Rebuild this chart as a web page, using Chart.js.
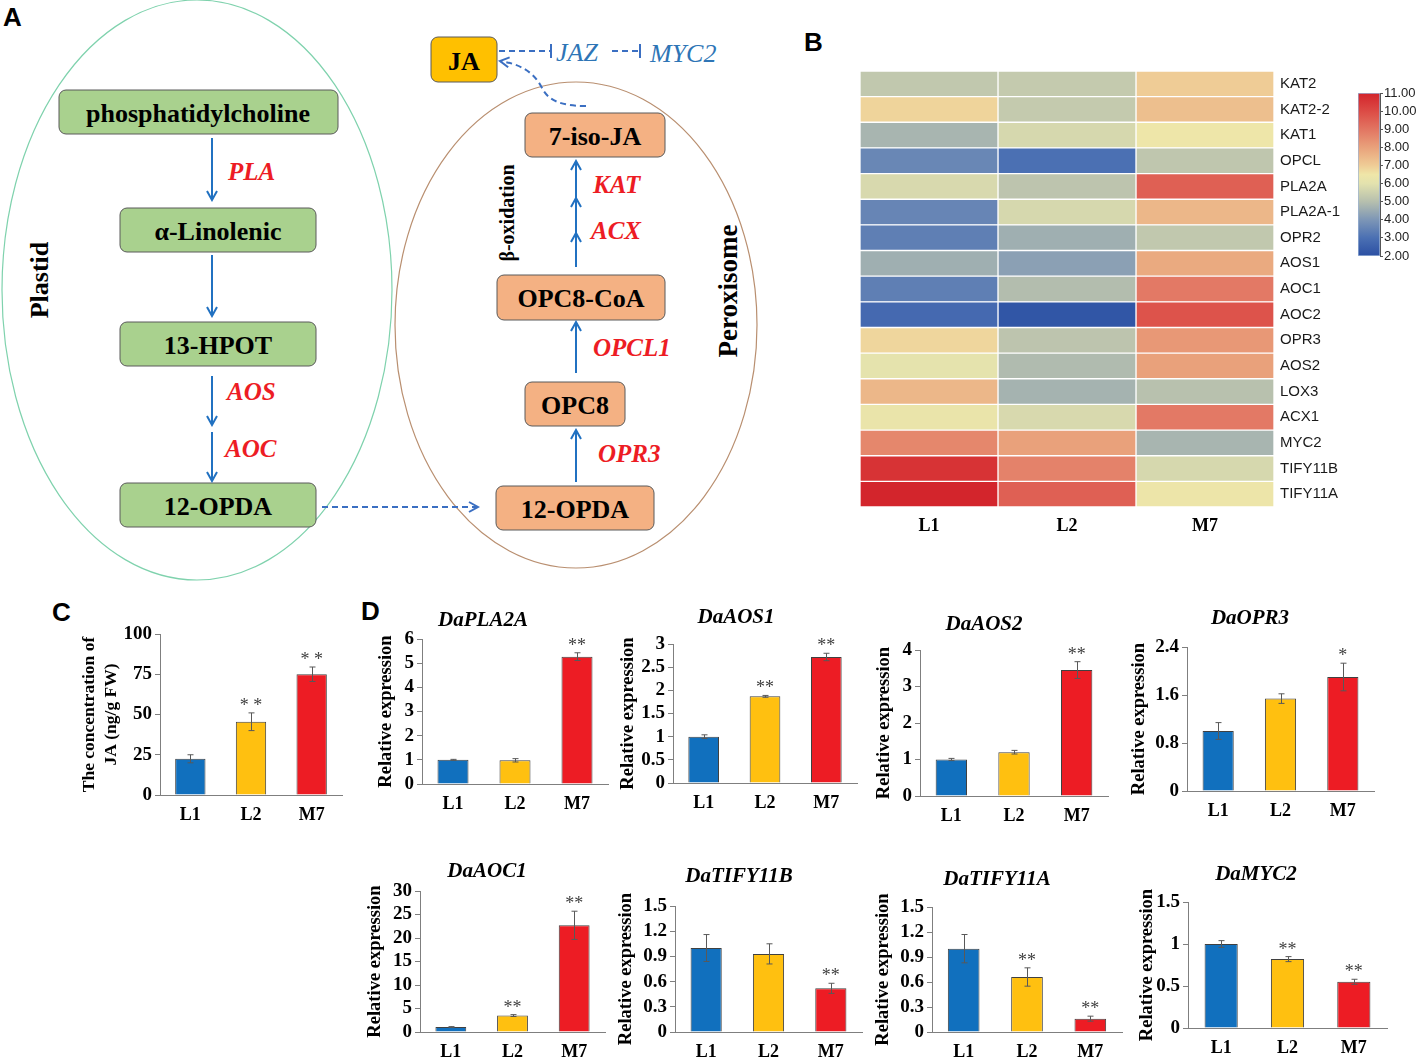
<!DOCTYPE html>
<html>
<head>
<meta charset="utf-8">
<title>JA pathway and expression</title>
<script src="https://cdn.jsdelivr.net/npm/chart.js@4.4.0/dist/chart.umd.min.js"></script>
<style>
  html, body { margin: 0; padding: 0; background: #fff; }
  #page { position: relative; width: 1417px; height: 1059px; overflow: hidden; background: #fff; }
  .letter { position: absolute; font: bold 26px "Liberation Sans", Arial, sans-serif; color: #000; line-height: 1; }
</style>
</head>
<body>
<div id="page">
  <svg width="800" height="590" style="position:absolute;left:0;top:0" font-family="'Liberation Serif', 'Times New Roman', serif">
    <defs>
      <marker id="arr" markerUnits="userSpaceOnUse" markerWidth="14" markerHeight="14" viewBox="0 0 14 14" refX="12" refY="7" orient="auto">
        <path d="M3,2 L12,7 L3,12" fill="none" stroke="#2171c1" stroke-width="2"/>
      </marker>
      <marker id="arrD" markerUnits="userSpaceOnUse" markerWidth="14" markerHeight="14" viewBox="0 0 14 14" refX="12" refY="7" orient="auto">
        <path d="M3,2 L12,7 L3,12" fill="none" stroke="#3b6fc2" stroke-width="2"/>
      </marker>
    </defs>
    <ellipse cx="197" cy="290" rx="195" ry="290" fill="none" stroke="#7fd2ad" stroke-width="1.2"/>
    <ellipse cx="576" cy="325" rx="181" ry="243" fill="none" stroke="#b98f70" stroke-width="1.2"/>

    <g stroke="#5a5a5a" stroke-width="1">
      <rect x="59" y="90" width="279" height="44" rx="7" fill="#a9d18e"/>
      <rect x="120" y="208" width="196" height="44" rx="7" fill="#a9d18e"/>
      <rect x="120" y="322" width="196" height="44" rx="7" fill="#a9d18e"/>
      <rect x="120" y="483" width="196" height="44" rx="7" fill="#a9d18e"/>
      <rect x="525" y="113" width="140" height="44" rx="7" fill="#f4b183"/>
      <rect x="497" y="275" width="168" height="45" rx="7" fill="#f4b183"/>
      <rect x="525" y="382" width="100" height="44" rx="7" fill="#f4b183"/>
      <rect x="496" y="486" width="158" height="44" rx="7" fill="#f4b183"/>
      <rect x="431" y="37" width="66" height="45" rx="7" fill="#ffc000"/>
    </g>

    <g font-weight="bold" font-size="26" text-anchor="middle" dominant-baseline="central" fill="#000">
      <text x="198" y="113">phosphatidylcholine</text>
      <text x="218" y="231">α-Linolenic</text>
      <text x="218" y="345">13-HPOT</text>
      <text x="218" y="506">12-OPDA</text>
      <text x="595" y="136">7-iso-JA</text>
      <text x="581" y="298">OPC8-CoA</text>
      <text x="575" y="405">OPC8</text>
      <text x="575" y="509">12-OPDA</text>
      <text x="464" y="61">JA</text>
      <text x="39" y="280" transform="rotate(-90 39 280)">Plastid</text>
      <text x="728" y="291" font-size="27" transform="rotate(-90 728 291)">Peroxisome</text>
      <text x="507" y="213" font-size="20" transform="rotate(-90 507 213)">β-oxidation</text>
    </g>

    <g stroke="#2171c1" stroke-width="2" fill="none">
      <line x1="212" y1="138" x2="212" y2="200" marker-end="url(#arr)"/>
      <line x1="212" y1="255" x2="212" y2="316" marker-end="url(#arr)"/>
      <line x1="212" y1="376" x2="212" y2="425" marker-end="url(#arr)"/>
      <line x1="212" y1="432" x2="212" y2="481" marker-end="url(#arr)"/>
      <line x1="576" y1="482" x2="576" y2="430" marker-end="url(#arr)"/>
      <line x1="576" y1="373" x2="576" y2="322" marker-end="url(#arr)"/>
      <line x1="576" y1="267" x2="576" y2="233" marker-end="url(#arr)"/>
      <line x1="576" y1="233" x2="576" y2="198" marker-end="url(#arr)"/>
      <line x1="576" y1="198" x2="576" y2="161" marker-end="url(#arr)"/>
    </g>

    <g stroke="#3b6fc2" stroke-width="2" fill="none" stroke-dasharray="6 4">
      <line x1="322" y1="507" x2="478" y2="507" marker-end="url(#arrD)"/>
      <line x1="499" y1="51" x2="551" y2="51"/>
      <line x1="612" y1="51" x2="640" y2="51"/>
      <path d="M586,106 C560,106 548,100 542,88 C534,72 520,64 500,61" marker-end="url(#arrD)"/>
    </g>
    <g stroke="#3b6fc2" stroke-width="2">
      <line x1="551" y1="44" x2="551" y2="58"/>
      <line x1="640" y1="44" x2="640" y2="58"/>
    </g>

    <g font-style="italic" font-weight="bold" font-size="25" fill="#ed1c24" dominant-baseline="central">
      <text x="228" y="171">PLA</text>
      <text x="227" y="391">AOS</text>
      <text x="225" y="448">AOC</text>
      <text x="593" y="184">KAT</text>
      <text x="591" y="230">ACX</text>
      <text x="593" y="347">OPCL1</text>
      <text x="598" y="453">OPR3</text>
    </g>
    <g font-style="italic" font-size="26" fill="#2e75b6" dominant-baseline="central">
      <text x="556" y="52">JAZ</text>
      <text x="650" y="53">MYC2</text>
    </g>
  </svg>

  <div class="letter" style="left:3px;top:4px">A</div>
  <div class="letter" style="left:804px;top:29px">B</div>
  <div class="letter" style="left:52px;top:599px">C</div>
  <div class="letter" style="left:361px;top:598px">D</div>
</div>

<script>
const groups = ["L1", "L2", "M7"];

// heatmap (panel B)
const heatGenes = ["KAT2", "KAT2-2", "KAT1", "OPCL", "PLA2A", "PLA2A-1", "OPR2", "AOS1", "AOC1",
  "AOC2", "OPR3", "AOS2", "LOX3", "ACX1", "MYC2", "TIFY11B", "TIFY11A"];
const heatL1 = [5.25, 6.85, 4.75, 3.6, 5.75, 3.55, 3.4, 4.6, 3.4, 2.8, 6.8, 6.1, 7.5, 6.3, 8.6, 10.6, 10.95];
const heatL2 = [5.3, 5.3, 5.7, 3.0, 5.15, 5.7, 4.6, 4.25, 4.95, 2.2, 5.15, 4.9, 4.7, 5.75, 8.0, 8.7, 9.5];
const heatM7 = [7.0, 7.3, 6.45, 5.2, 9.5, 7.5, 5.25, 7.8, 8.9, 9.8, 8.2, 8.0, 5.05, 8.9, 4.75, 5.7, 6.4];
const colorbarRange = [2, 11];

// JA content (panel C)
const jaMean = [22.5, 45.5, 75];
const jaErr = [2.5, 5.5, 4.5];
const jaStars = ["", "* *", "* *"];

// qRT-PCR (panel D)
const pla2aMean = [1.0, 0.98, 5.27];
const pla2aErr = [0.02, 0.07, 0.16];
const pla2aStars = ["", "", "**"];
const aos1Mean = [1.0, 1.87, 2.72];
const aos1Err = [0.04, 0.02, 0.08];
const aos1Stars = ["", "**", "**"];
const aos2Mean = [1.0, 1.2, 3.45];
const aos2Err = [0.03, 0.05, 0.23];
const aos2Stars = ["", "", "**"];
const opr3Mean = [1.0, 1.54, 1.9];
const opr3Err = [0.14, 0.08, 0.23];
const opr3Stars = ["", "", "*"];
const aoc1Mean = [1.05, 3.5, 22.7];
const aoc1Err = [0.1, 0.2, 3.0];
const aoc1Stars = ["", "**", "**"];
const tify11bMean = [1.0, 0.93, 0.52];
const tify11bErr = [0.16, 0.12, 0.06];
const tify11bStars = ["", "", "**"];
const tify11aMean = [1.0, 0.66, 0.16];
const tify11aErr = [0.17, 0.11, 0.03];
const tify11aStars = ["", "**", "**"];
const myc2Mean = [1.0, 0.82, 0.55];
const myc2Err = [0.04, 0.03, 0.03];
const myc2Stars = ["", "**", "**"];

const $ = (id) => document.getElementById(id);
const serif = '"Liberation Serif", "Times New Roman", serif';
const sans = '"Liberation Sans", Arial, sans-serif';
const barFill = ["#1170be", "#ffc010", "#ed1c24"];
const scaleStops = [
  [2, "#2b4fa3"], [3, "#4b70b3"], [4, "#7d96b6"], [5, "#b6bfae"], [6, "#e3e2ae"],
  [6.5, "#efe6a8"], [7, "#efcc96"], [8, "#e9a17b"], [9, "#e27562"], [10, "#dc4b45"], [11, "#d3232b"],
];

Chart.defaults.animation = false;
Chart.defaults.font.family = serif;
Chart.defaults.color = "#000";
Chart.defaults.plugins.legend.display = false;
Chart.defaults.plugins.tooltip.enabled = false;

function hexRgb(h) {
  return [1, 3, 5].map((i) => parseInt(h.slice(i, i + 2), 16));
}

function heatColor(v) {
  for (let i = 1; i < scaleStops.length; i++) {
    const [v1, c1] = scaleStops[i];
    const [v0, c0] = scaleStops[i - 1];
    if (v <= v1) {
      const t = Math.max(0, (v - v0) / (v1 - v0));
      const a = hexRgb(c0), b = hexRgb(c1);
      return `rgb(${a.map((x, k) => Math.round(x + (b[k] - x) * t)).join(",")})`;
    }
  }
  return scaleStops[scaleStops.length - 1][1];
}

function makeCanvas(left, top, w, h) {
  const c = document.createElement("canvas");
  c.width = w;
  c.height = h;
  c.style.cssText = `position:absolute;left:${left}px;top:${top}px;width:${w}px;height:${h}px`;
  $("page").appendChild(c);
  return c;
}

const errorBars = {
  id: "errorBars",
  afterDatasetsDraw(chart) {
    const ds = chart.data.datasets[0];
    const meta = chart.getDatasetMeta(0);
    const y = chart.scales.y;
    const ctx = chart.ctx;
    ctx.save();
    ctx.strokeStyle = "#595959";
    ctx.lineWidth = 1;
    ctx.fillStyle = "#404040";
    ctx.font = `18px ${serif}`;
    ctx.textAlign = "center";
    ctx.textBaseline = "alphabetic";
    meta.data.forEach((bar, i) => {
      const v = ds.data[i], e = ds.errors[i];
      const hi = y.getPixelForValue(v + e);
      const lo = y.getPixelForValue(v - e);
      const x = Math.round(bar.x) + 0.5;
      ctx.beginPath();
      ctx.moveTo(x, hi); ctx.lineTo(x, lo);
      ctx.moveTo(x - 3, hi); ctx.lineTo(x + 3, hi);
      ctx.moveTo(x - 3, lo); ctx.lineTo(x + 3, lo);
      ctx.stroke();
      if (ds.stars[i]) ctx.fillText(ds.stars[i], bar.x, hi - 2);
    });
    ctx.restore();
  },
};

const geneTitle = {
  id: "geneTitle",
  afterDraw(chart, args, opts) {
    if (!opts.text) return;
    const ctx = chart.ctx;
    ctx.save();
    ctx.font = `italic bold 21px ${serif}`;
    ctx.fillStyle = "#000";
    ctx.textAlign = "center";
    ctx.textBaseline = "middle";
    ctx.fillText(opts.text, opts.x, opts.y);
    ctx.restore();
  },
};

const exprPanels = [
  { mean: jaMean, err: jaErr, stars: jaStars, max: 100, step: 25, L: 160, R: 342, top: 634, bottom: 795,
    tx: 89, yTitle: ["The concentration of", "JA (ng/g FW)"], yFont: 17.5, yLine: 1.27 },
  { title: "DaPLA2A", mean: pla2aMean, err: pla2aErr, stars: pla2aStars, max: 6, step: 1,
    L: 422, R: 608, top: 639, bottom: 784, tx: 386, titleX: 483, titleY: 621 },
  { title: "DaAOS1", mean: aos1Mean, err: aos1Err, stars: aos1Stars, max: 3, step: 0.5,
    L: 673, R: 857, top: 644, bottom: 783, tx: 628, titleX: 736, titleY: 618 },
  { title: "DaAOS2", mean: aos2Mean, err: aos2Err, stars: aos2Stars, max: 4, step: 1,
    L: 920, R: 1108, top: 650, bottom: 796, tx: 884, titleX: 984, titleY: 625 },
  { title: "DaOPR3", mean: opr3Mean, err: opr3Err, stars: opr3Stars, max: 2.4, step: 0.8,
    L: 1187, R: 1374, top: 647, bottom: 791, tx: 1139, titleX: 1250, titleY: 619 },
  { title: "DaAOC1", mean: aoc1Mean, err: aoc1Err, stars: aoc1Stars, max: 30, step: 5,
    L: 420, R: 605, top: 891, bottom: 1032, tx: 375, titleX: 487, titleY: 872 },
  { title: "DaTIFY11B", mean: tify11bMean, err: tify11bErr, stars: tify11bStars, max: 1.5, step: 0.3,
    L: 675, R: 862, top: 906, bottom: 1032, tx: 626, titleX: 739, titleY: 877 },
  { title: "DaTIFY11A", mean: tify11aMean, err: tify11aErr, stars: tify11aStars, max: 1.5, step: 0.3,
    L: 932, R: 1122, top: 907, bottom: 1032, tx: 883, titleX: 997, titleY: 880 },
  { title: "DaMYC2", mean: myc2Mean, err: myc2Err, stars: myc2Stars, max: 1.5, step: 0.5,
    L: 1188, R: 1387, top: 902, bottom: 1028, tx: 1147, titleX: 1256, titleY: 875 },
];

function drawBarPanel(p) {
  const yFont = p.yFont || 18.5;
  const yLine = p.yLine || 1.2;
  const left = Math.round(p.tx - (yFont * yLine) / 2);
  const yw = p.L - left;
  const pt = p.title ? p.top - p.titleY + 16 : 14;
  const top = p.top - pt;
  const xh = 34;
  const w = p.R - left + 4;
  const h = pt + (p.bottom - p.top) + xh;
  const tickFont = { family: serif, size: 19, weight: "bold", lineHeight: 1 };

  new Chart(makeCanvas(left, top, w, h), {
    type: "bar",
    data: {
      labels: groups,
      datasets: [{
        data: p.mean, errors: p.err, stars: p.stars,
        backgroundColor: barFill, borderColor: "#404040", borderWidth: 1,
        barPercentage: 0.5, categoryPercentage: 1,
      }],
    },
    options: {
      responsive: false,
      layout: { padding: { left: 0, right: 4, top: pt, bottom: 0 } },
      plugins: { geneTitle: { text: p.title, x: p.titleX - left, y: p.titleY - top } },
      scales: {
        x: {
          grid: { display: false, drawTicks: false },
          border: { display: true, color: "#7f7f7f" },
          ticks: { padding: 11, font: { family: serif, size: 18, weight: "bold", lineHeight: 1 }, color: "#000" },
          afterFit: (s) => { s.height = xh; },
        },
        y: {
          min: 0, max: p.max,
          ticks: {
            stepSize: p.step, padding: 3, font: tickFont, color: "#000", autoSkip: false,
            callback: (v) => String(+v.toFixed(2)),
          },
          grid: { drawOnChartArea: false, tickLength: 5, color: "#7f7f7f" },
          border: { color: "#7f7f7f" },
          title: {
            display: true, text: p.yTitle || "Relative expression", padding: 0, color: "#000",
            font: { family: serif, size: yFont, weight: "bold", lineHeight: yLine },
          },
          afterFit: (s) => { s.width = yw; },
        },
      },
    },
    plugins: [errorBars, geneTitle],
  });
}

function drawHeatmap() {
  const L = 860, R = 1274, T = 71, B = 507;
  const pt = 16, xh = 34, yw = 76;
  const cols = [heatL1, heatL2, heatM7];
  new Chart(makeCanvas(L, T - pt, R - L + yw, pt + (B - T) + xh), {
    type: "bar",
    data: {
      labels: heatGenes,
      datasets: cols.map((vals, c) => ({
        data: vals.map(() => [c, c + 1]),
        backgroundColor: vals.map(heatColor),
        borderColor: "#ffffff", borderWidth: 1, borderSkipped: false,
        barPercentage: 1, categoryPercentage: 1, grouped: false,
      })),
    },
    options: {
      indexAxis: "y",
      responsive: false,
      layout: { padding: { left: 0, right: 0, top: pt, bottom: 0 } },
      scales: {
        x: {
          type: "linear", min: 0, max: 3,
          afterBuildTicks: (s) => { s.ticks = [0.5, 1.5, 2.5].map((v) => ({ value: v })); },
          ticks: { callback: (v) => groups[Math.floor(v)], padding: 9, color: "#000",
            font: { family: serif, size: 18, weight: "bold" } },
          grid: { display: false, drawTicks: false },
          border: { display: false },
          afterFit: (s) => { s.height = xh; },
        },
        y: {
          position: "right",
          grid: { display: false, drawTicks: false },
          border: { display: false },
          ticks: { padding: 6, color: "#1a1a1a", autoSkip: false, font: { family: sans, size: 15, lineHeight: 1 } },
          afterFit: (s) => { s.width = yw; },
        },
      },
    },
  });
}

function drawColorbar() {
  const L = 1358, R = 1380, T = 93, B = 256, pad = 9, yw = 38;
  new Chart(makeCanvas(L, T - pad, R - L + yw, (B - T) + pad * 2), {
    type: "bar",
    data: {
      labels: [""],
      datasets: [{
        data: [colorbarRange],
        backgroundColor: (c) => {
          const a = c.chart.chartArea;
          if (!a) return "#ccc";
          const g = c.chart.ctx.createLinearGradient(0, a.bottom, 0, a.top);
          scaleStops.forEach(([v, col]) => g.addColorStop((v - colorbarRange[0]) / (colorbarRange[1] - colorbarRange[0]), col));
          return g;
        },
        borderColor: "#9bb3d6", borderWidth: 1, borderSkipped: false,
        barPercentage: 1, categoryPercentage: 1,
      }],
    },
    options: {
      responsive: false,
      layout: { padding: { left: 0, right: 0, top: pad, bottom: pad } },
      scales: {
        x: { display: false },
        y: {
          position: "right", min: colorbarRange[0], max: colorbarRange[1],
          ticks: { stepSize: 1, autoSkip: false, callback: (v) => v.toFixed(2), padding: 1, color: "#222",
            font: { family: sans, size: 13, lineHeight: 1 } },
          grid: { drawOnChartArea: false, tickLength: 3, color: "#555" },
          border: { color: "#555" },
          afterFit: (s) => { s.width = yw; },
        },
      },
    },
  });
}

function boot() {
  drawHeatmap();
  drawColorbar();
  exprPanels.forEach(drawBarPanel);
}

document.addEventListener("DOMContentLoaded", boot);
</script>
</body>
</html>
